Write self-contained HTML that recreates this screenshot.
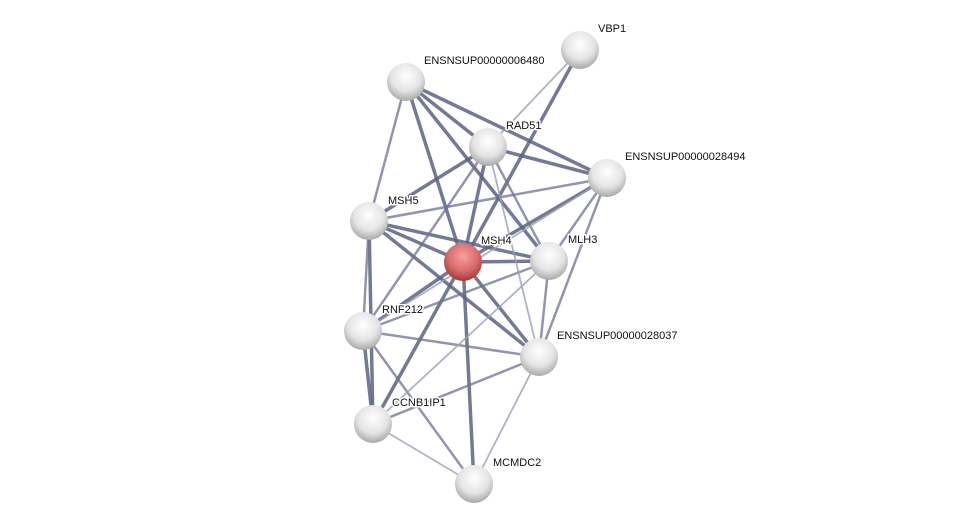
<!DOCTYPE html>
<html><head><meta charset="utf-8"><style>
html,body{margin:0;padding:0;background:#fff;}
svg{display:block}
text{font-family:"Liberation Sans",sans-serif;font-size:11px;fill:#111;stroke:#fff;stroke-width:3px;stroke-linejoin:round;paint-order:stroke fill;}
</style></head><body>
<svg width="975" height="529" viewBox="0 0 975 529" xmlns="http://www.w3.org/2000/svg">
<defs>
<radialGradient id="g" cx="0.5" cy="0.35" r="0.65">
<stop offset="0" stop-color="#ffffff"/><stop offset="0.6" stop-color="#e4e4e4"/><stop offset="1" stop-color="#a8a8a8"/>
</radialGradient>
<radialGradient id="r" cx="0.5" cy="0.35" r="0.65">
<stop offset="0" stop-color="#f6a0a0"/><stop offset="0.6" stop-color="#d96a6a"/><stop offset="1" stop-color="#9e3a3a"/>
</radialGradient>
</defs>
<g stroke-linecap="round">
<g stroke="#5c6384" stroke-width="3.5" stroke-opacity="0.85">
<line x1="580" y1="50" x2="463" y2="262"/>
<line x1="406" y1="82" x2="463" y2="262"/>
<line x1="406" y1="82" x2="488" y2="147"/>
<line x1="406" y1="82" x2="549" y2="261"/>
<line x1="488" y1="147" x2="463" y2="262"/>
<line x1="488" y1="147" x2="369" y2="221"/>
<line x1="488" y1="147" x2="607" y2="178"/>
<line x1="369" y1="221" x2="463" y2="262"/>
<line x1="369" y1="221" x2="549" y2="261"/>
<line x1="369" y1="221" x2="539" y2="357"/>
<line x1="463" y1="262" x2="549" y2="261"/>
<line x1="463" y1="262" x2="363" y2="331"/>
<line x1="463" y1="262" x2="539" y2="357"/>
<line x1="463" y1="262" x2="373" y2="424"/>
<line x1="463" y1="262" x2="474" y2="484"/>
<line x1="463" y1="262" x2="607" y2="178"/>
<line x1="363" y1="331" x2="373" y2="424"/>
<line x1="369" y1="221" x2="373" y2="424"/>
<line x1="406" y1="82" x2="607" y2="178"/>
</g>
<g stroke="#6c7390" stroke-width="2.5" stroke-opacity="0.75">
<line x1="406" y1="82" x2="369" y2="221"/>
<line x1="369" y1="221" x2="363" y2="331"/>
<line x1="369" y1="221" x2="607" y2="178"/>
<line x1="488" y1="147" x2="549" y2="261"/>
<line x1="607" y1="178" x2="549" y2="261"/>
<line x1="549" y1="261" x2="539" y2="357"/>
<line x1="539" y1="357" x2="373" y2="424"/>
<line x1="363" y1="331" x2="539" y2="357"/>
<line x1="363" y1="331" x2="474" y2="484"/>
<line x1="607" y1="178" x2="539" y2="357"/>
<line x1="363" y1="331" x2="549" y2="261"/>
<line x1="488" y1="147" x2="363" y2="331"/>
</g>
<g stroke="#9aa0b4" stroke-width="1.8" stroke-opacity="0.8">
<line x1="580" y1="50" x2="488" y2="147"/>
<line x1="488" y1="147" x2="539" y2="357"/>
<line x1="549" y1="261" x2="373" y2="424"/>
<line x1="539" y1="357" x2="474" y2="484"/>
<line x1="373" y1="424" x2="474" y2="484"/>
<line x1="607" y1="178" x2="363" y2="331"/>
</g>
</g>
<g>
<circle cx="580" cy="50" r="19" fill="url(#g)"/>
<circle cx="406" cy="82" r="19" fill="url(#g)"/>
<circle cx="488" cy="147" r="19" fill="url(#g)"/>
<circle cx="607" cy="178" r="19" fill="url(#g)"/>
<circle cx="369" cy="221" r="19" fill="url(#g)"/>
<circle cx="463" cy="262" r="19" fill="url(#r)"/>
<circle cx="549" cy="261" r="19" fill="url(#g)"/>
<circle cx="363" cy="331" r="19" fill="url(#g)"/>
<circle cx="539" cy="357" r="19" fill="url(#g)"/>
<circle cx="373" cy="424" r="19" fill="url(#g)"/>
<circle cx="474" cy="484" r="19" fill="url(#g)"/>
</g>
<text x="598" y="32">VBP1</text>
<text x="424" y="64">ENSNSUP00000006480</text>
<text x="506" y="129">RAD51</text>
<text x="625" y="160">ENSNSUP00000028494</text>
<text x="388" y="204">MSH5</text>
<text x="481" y="244">MSH4</text>
<text x="568" y="243">MLH3</text>
<text x="382" y="313">RNF212</text>
<text x="557" y="339">ENSNSUP00000028037</text>
<text x="392" y="406">CCNB1IP1</text>
<text x="493" y="466">MCMDC2</text>
</svg>
</body></html>
